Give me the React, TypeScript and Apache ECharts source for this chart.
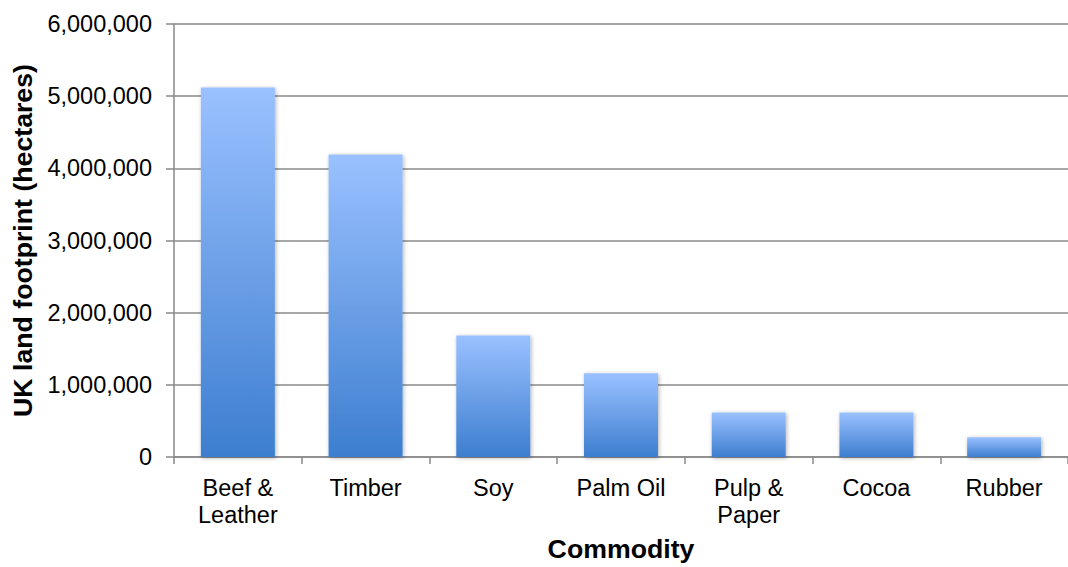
import React, { useEffect, useRef } from "react";
import * as echarts from "echarts";

const categories = ["Beef &\nLeather", "Timber", "Soy", "Palm Oil", "Pulp &\nPaper", "Cocoa", "Rubber"];
const footprint = [5120000, 4190000, 1685000, 1160000, 617000, 617000, 272000];
const yTicks = { min: 0, max: 6000000, interval: 1000000 };
const xTitle = "Commodity";
const yTitle = "UK land footprint (hectares)";

const FONT = "'Liberation Sans', Arial, Helvetica, sans-serif";

export default function App() {
  const ref = useRef<HTMLDivElement>(null);
  useEffect(() => {
    if (!ref.current) return;
    const chart = echarts.init(ref.current, undefined, { renderer: "svg" });
    chart.setOption({
      animation: false,
      backgroundColor: "#ffffff",
      grid: { left: 174, top: 24, width: 901, height: 435, containLabel: false },
      xAxis: {
        type: "category",
        data: categories,
        name: xTitle,
        nameLocation: "middle",
        nameGap: 78,
        nameTextStyle: { fontFamily: FONT, fontSize: 26.7, fontWeight: "bold", color: "#000" },
        axisLine: { lineStyle: { color: "#888", width: 1.5 } },
        axisTick: { show: true, length: 7, lineStyle: { color: "#888", width: 1.5 } },
        axisLabel: {
          fontFamily: FONT,
          fontSize: 23.5,
          color: "#000",
          margin: 17,
          lineHeight: 27,
          interval: 0,
        },
      },
      yAxis: {
        type: "value",
        min: yTicks.min,
        max: yTicks.max,
        interval: yTicks.interval,
        name: yTitle,
        nameLocation: "middle",
        nameGap: 138,
        nameRotate: 90,
        nameTextStyle: { fontFamily: FONT, fontSize: 26.7, fontWeight: "bold", color: "#000" },
        axisLine: { show: true, lineStyle: { color: "#888", width: 1.5 } },
        axisTick: { show: true, length: 8, lineStyle: { color: "#888", width: 1.5 } },
        splitLine: { lineStyle: { color: "#8a8a8a", width: 1.5 } },
        axisLabel: {
          fontFamily: FONT,
          fontSize: 23.5,
          color: "#000",
          margin: 22,
          formatter: (v: number) => v.toLocaleString("en-US"),
        },
      },
      series: [
        {
          type: "bar",
          data: footprint,
          barWidth: 74,
          itemStyle: {
            color: new echarts.graphic.LinearGradient(0, 0, 0, 1, [
              { offset: 0, color: "#9AC1FF" },
              { offset: 1, color: "#3D7ECF" },
            ]),
            shadowBlur: 4,
            shadowColor: "rgba(0,0,0,0.3)",
            shadowOffsetX: 1,
            shadowOffsetY: 1,
          },
        },
      ],
    });
    return () => chart.dispose();
  }, []);
  return (
    <div
      ref={ref}
      style={{ position: "absolute", left: 0, top: 0, width: 1068, height: 567, overflow: "hidden" }}
    />
  );
}
